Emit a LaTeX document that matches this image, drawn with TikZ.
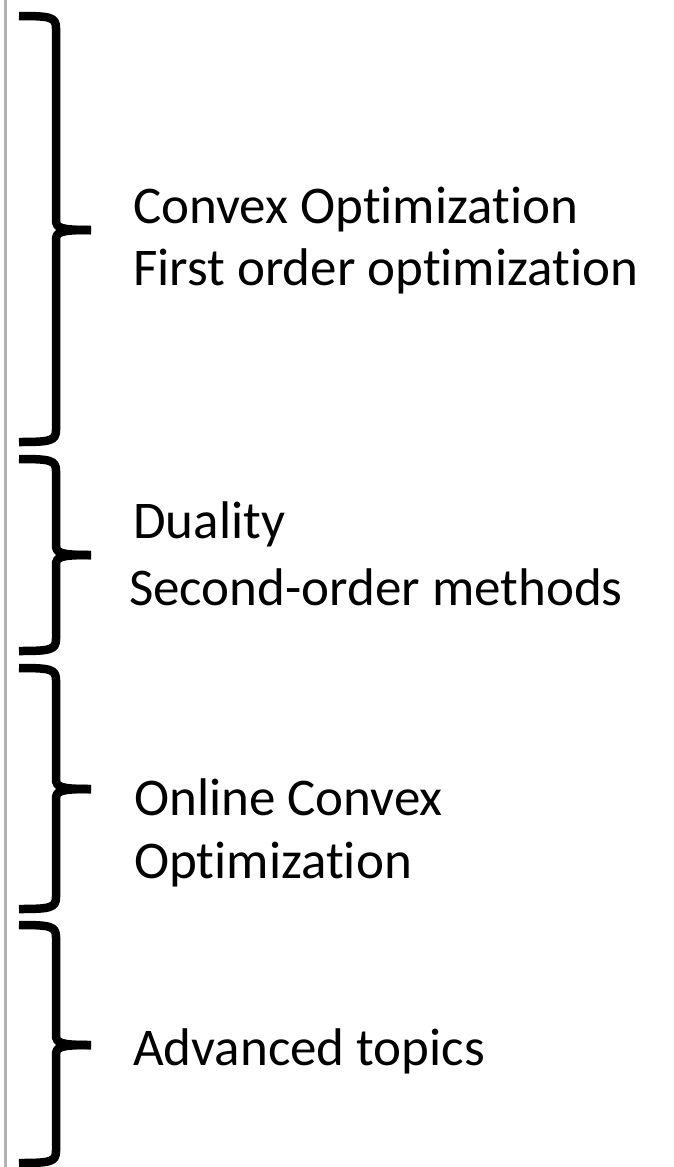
\documentclass[tikz,border=0pt]{standalone}
\usepackage{fontspec}
\setmainfont[Ligatures={NoCommon}]{Carlito}
\begin{document}
\begin{tikzpicture}[x=1pt,y=-1pt,
  bracestyle/.style={line width=8.5pt,line cap=butt,line join=round,black},
  label/.style={anchor=base west,inner sep=0pt,font=\fontsize{53}{62}\selectfont}]
\useasboundingbox (0,0) rectangle (673,1167);
\fill[white] (0,0) rectangle (673,1167);
% left gray rule
\draw[line width=3pt,black!30] (5,0) -- (5,1167);
% braces: top, mid, bottom
\foreach \t/\m/\b in {16/230/442, 459/555/651, 668/789/909, 925/1045/1163}{
  \draw[bracestyle] (19,\t) .. controls (50,\t) and (56,\t+1) .. (56,\t+12)
     -- (56,\m-10) .. controls (56,\m-2) and (60,\m) .. (91,\m);
  \draw[bracestyle] (91,\m) .. controls (60,\m) and (56,\m+2) .. (56,\m+10)
     -- (56,\b-12) .. controls (56,\b-1) and (50,\b) .. (19,\b);
}
\node[label] (a1) at (133,223) {Convex Optimization};
\node[label] (a2) at (133,285) {First order optimization};
\node[label] (b1) at (133,538) {Duality};
\node[label] (b2) at (129,605) {Second-order methods};
\node[label] (c1) at (134,815) {Online Convex};
\node[label] (c2) at (134,878) {Optimization};
\node[label] (d1) at (133,1065) {Advanced topics};
\end{tikzpicture}
\end{document}
